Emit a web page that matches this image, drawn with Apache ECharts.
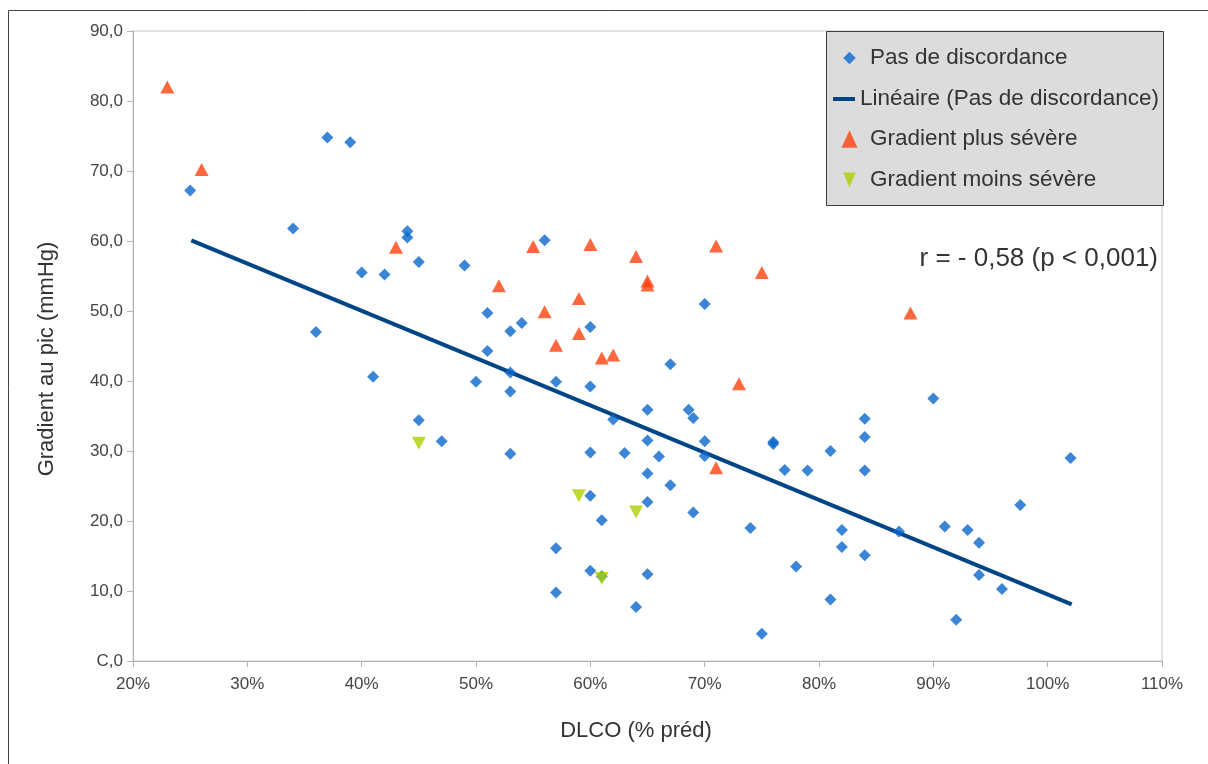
<!DOCTYPE html>
<html>
<head>
<meta charset="utf-8">
<script src="https://cdn.jsdelivr.net/npm/echarts@6/dist/echarts.min.js"></script>
<style>
html,body{margin:0;padding:0;background:#fff;}
#chart{width:1208px;height:764px;}
</style>
</head>
<body>
<div id="chart"></div>
<script>
// ---- Data ----
var seriesNames = ['Pas de discordance', 'Linéaire (Pas de discordance)', 'Gradient plus sévère', 'Gradient moins sévère'];

var pasDlco = [25,37,39,34,44,44,45,49,40,42,51,36,56,70,54,53,60,51,67,50,53,53,57,60,62,65,68.6,69,65,70,70,76,76,53,60,63,66,77,79,81,65,67,60,65,61,69,74,82,82,57,78,60,61,65,81,57,64,75,41,45,47,90,84,84,102,84,97.6,87,91,93,94,84,94,96,92];
var pasGrad = [67.2,74.8,74.1,61.8,61.4,60.5,57.0,56.5,55.5,55.2,49.7,47.0,60.1,51.0,48.3,47.1,47.7,44.3,42.4,39.9,41.2,38.5,39.9,39.2,34.5,35.9,35.9,34.7,31.5,31.4,29.3,31.3,31.0,29.6,29.8,29.7,29.2,27.3,27.2,30.0,26.8,25.1,23.6,22.7,20.1,21.2,19.0,18.7,16.3,16.1,13.5,12.9,12.1,12.4,8.8,9.8,7.7,3.9,40.6,34.4,31.4,37.5,34.6,32.0,29.0,27.2,22.3,18.5,19.2,18.7,16.9,15.1,12.3,10.3,5.9];

var trendDlco = [25.1, 102.1];
var trendGrad = [60.1, 8.1];

var plusDlco = [23,26,43,55,60,64,71,75,52,65,65,59,56,59,57,61,62,73,71,88];
var plusGrad = [82.0,70.2,59.1,59.2,59.5,57.8,59.3,55.5,53.6,54.3,53.7,51.8,49.9,46.8,45.1,43.3,43.7,39.6,27.6,49.7];

var moinsDlco = [45,59,64,61];
var moinsGrad = [31.1,23.6,21.3,11.8];

var yTickLabels = ['C,0','10,0','20,0','30,0','40,0','50,0','60,0','70,0','80,0','90,0'];
var xTitle = 'DLCO (% préd)';
var yTitle = 'Gradient au pic (mmHg)';
var corrText = 'r = - 0,58 (p < 0,001)';

function zip(a, b) { return a.map(function (v, i) { return [v, b[i]]; }); }

var chart = echarts.init(document.getElementById('chart'), null, {renderer: 'canvas'});
var font = 'Liberation Sans, Arial, sans-serif';
var legendFontSize = 22.5;

function legendItem(name, left, centerY, w, h, icon, padLeft) {
  return {
    orient: 'vertical', left: left, top: centerY - 12, padding: 0,
    itemWidth: w, itemHeight: h, z: 6,
    textStyle: {color: '#333', fontFamily: font, fontSize: legendFontSize, lineHeight: 24, padding: [0, 0, 0, padLeft]},
    data: [{name: name, icon: icon}]
  };
}

var option = {
  backgroundColor: '#ffffff',
  animation: false,
  grid: {
    left: 133, right: 46, top: 31, bottom: 103,
    show: true, borderColor: '#c8c8c8', borderWidth: 1, backgroundColor: 'transparent'
  },
  xAxis: {
    type: 'value', min: 20, max: 110, interval: 10,
    axisLine: {show: true, lineStyle: {color: '#b4b4b4', width: 1}},
    axisTick: {show: true, length: 6, lineStyle: {color: '#b4b4b4'}},
    splitLine: {show: false},
    axisLabel: {
      color: '#444', fontFamily: font, fontSize: 17, margin: 15,
      formatter: function (v) { return v + '%'; }
    }
  },
  yAxis: {
    type: 'value', min: 0, max: 90, interval: 10,
    axisLine: {show: true, lineStyle: {color: '#b4b4b4', width: 1}},
    axisTick: {show: true, length: 6, lineStyle: {color: '#b4b4b4'}},
    splitLine: {show: false},
    axisLabel: {
      color: '#444', fontFamily: font, fontSize: 17, margin: 10,
      formatter: function (v) { return yTickLabels[Math.round(v / 10)]; }
    }
  },
  legend: [
    legendItem(seriesNames[0], 843.25, 58, 12.5, 12.5, 'diamond', 9.25),
    legendItem(seriesNames[1], 833, 99, 22, 4, 'rect', 0),
    legendItem(seriesNames[2], 841.5, 139, 16, 17.5, 'triangle', 7.5),
    legendItem(seriesNames[3], 843.25, 180, 12.5, 15, 'path://M0,0L10,0L5,12Z', 9.25)
  ],
  graphic: [
    {type: 'rect', silent: true, z: 100, shape: {x: 8.5, y: 10.5, width: 1210, height: 770},
     style: {fill: 'none', stroke: '#444', lineWidth: 1}},
    {type: 'rect', silent: true, z: 3, shape: {x: 826.5, y: 31.5, width: 337, height: 174},
     style: {fill: '#dcdcdc', stroke: '#3a3a3a', lineWidth: 1}},
    {type: 'text', x: 1158, y: 259, z: 50,
     style: {text: corrText, fill: '#333', font: '26px ' + font, align: 'right', verticalAlign: 'middle'}},
    {type: 'text', x: 636, y: 731, z: 50,
     style: {text: xTitle, fill: '#333', font: '22px ' + font, align: 'center', verticalAlign: 'middle'}},
    {type: 'text', x: 47, y: 359, rotation: Math.PI / 2, z: 50,
     style: {text: yTitle, fill: '#333', font: '22px ' + font, align: 'center', verticalAlign: 'middle'}}
  ],
  series: [
    {
      name: seriesNames[0], type: 'scatter', symbol: 'diamond', symbolSize: 12,
      itemStyle: {color: '#0a66cc'}, data: zip(pasDlco, pasGrad), z: 3
    },
    {
      name: seriesNames[1], type: 'line', symbol: 'none', showSymbol: false,
      lineStyle: {color: '#004586', width: 4}, itemStyle: {color: '#004586'},
      data: zip(trendDlco, trendGrad), z: 2
    },
    {
      name: seriesNames[2], type: 'scatter', symbol: 'triangle', symbolSize: [14, 13],
      itemStyle: {color: '#ff420e'}, data: zip(plusDlco, plusGrad), z: 4
    },
    {
      name: seriesNames[3], type: 'scatter', symbol: 'triangle', symbolRotate: 180, symbolSize: [14, 13],
      itemStyle: {color: '#aecf00'}, data: zip(moinsDlco, moinsGrad), z: 4
    }
  ]
};
chart.setOption(option);
</script>
</body>
</html>
